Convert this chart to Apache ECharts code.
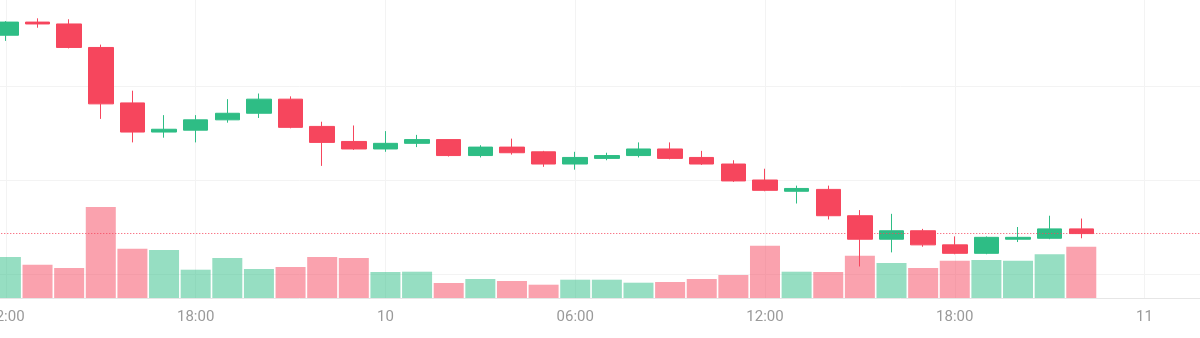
<!DOCTYPE html>
<html>
<head>
<meta charset="utf-8">
<script src="https://cdn.jsdelivr.net/npm/echarts@6/dist/echarts.min.js"></script>
<style>
  html, body { margin: 0; padding: 0; background: #ffffff; }
  #chart { width: 1200px; height: 338px; }
</style>
</head>
<body>
<div id="chart"></div>
<script>
// Hourly axis categories: 9th 11:00 ... 11th 02:00
const categories = [
  '11:00','12:00','13:00','14:00','15:00','16:00','17:00','18:00','19:00','20:00','21:00','22:00','23:00',
  '10','01:00','02:00','03:00','04:00','05:00','06:00','07:00','08:00','09:00','10:00','11:00','12:00',
  '13:00','14:00','15:00','16:00','17:00','18:00','19:00','20:00','21:00','22:00','23:00',
  '11','01:00','02:00'
];
// first candle sits on category index 1 (12:00 on the 9th)
const firstCandleIndex = 1;

const opens  = [62.54,62.68,62.66,62.41,61.82,61.51,61.53,61.64,61.71,61.86,61.57,61.41,61.33,61.39,61.43,61.26,61.35,61.30,61.17,61.23,61.26,61.33,61.24,61.17,61.00,60.88,60.90,60.62,60.37,60.46,60.31,60.22,60.37,60.38,60.48];
const closes = [62.68,62.66,62.41,61.81,61.51,61.54,61.64,61.71,61.86,61.56,61.40,61.33,61.39,61.43,61.26,61.35,61.29,61.17,61.24,61.26,61.33,61.23,61.17,60.99,60.89,60.91,60.62,60.37,60.46,60.31,60.22,60.39,60.39,60.48,60.43];
const lows   = [62.48,62.62,62.40,61.65,61.40,61.45,61.40,61.61,61.66,61.55,61.15,61.32,61.30,61.35,61.25,61.24,61.27,61.14,61.11,61.21,61.24,61.22,61.16,60.98,60.88,60.75,60.58,60.08,60.23,60.29,60.21,60.21,60.34,60.37,60.38];
const highs  = [62.69,62.72,62.71,62.44,61.95,61.69,61.69,61.86,61.92,61.89,61.62,61.58,61.52,61.48,61.43,61.37,61.44,61.31,61.30,61.29,61.40,61.40,61.31,61.21,61.12,60.94,60.94,60.68,60.64,60.48,60.40,60.40,60.50,60.62,60.59];
const volumes = [410,333,300,910,493,480,283,400,290,310,410,400,260,263,150,190,170,133,183,183,153,160,190,230,523,263,260,423,350,300,373,380,373,437,513];

const UP = '#2ebd85', DOWN = '#f6465d';
const UP_VOL = 'rgba(46,189,133,0.5)', DOWN_VOL = 'rgba(246,70,93,0.5)';

const candleData = opens.map((o, i) => [i + firstCandleIndex, o, closes[i], lows[i], highs[i]]);
const volumeData = volumes.map((v, i) => ({
  value: [i + firstCandleIndex, v],
  itemStyle: { color: closes[i] >= opens[i] ? UP_VOL : DOWN_VOL }
}));
const lastClose = closes[closes.length - 1];

const showEvery6 = (idx) => idx % 6 === 1;

const chart = echarts.init(document.getElementById('chart'), null, { renderer: 'canvas' });
chart.setOption({
  animation: false,
  backgroundColor: '#ffffff',
  grid: [
    { left: -25.73, right: -7.8, top: -8, height: 282, outerBoundsMode: 'none', containLabel: false },
    { left: -25.73, right: -7.8, top: 0, height: 298, outerBoundsMode: 'none', containLabel: false }
  ],
  xAxis: [
    {
      type: 'category', gridIndex: 0, data: categories, boundaryGap: false, show: false
    },
    {
      type: 'category', gridIndex: 1, data: categories, boundaryGap: false,
      axisLine: { show: true, lineStyle: { color: '#e6e6e6', width: 1 } },
      axisTick: { show: false },
      axisLabel: {
        interval: showEvery6,
        color: '#9a9a9a', fontSize: 15, fontFamily: 'Roboto', margin: 12
      },
      splitLine: { show: true, interval: showEvery6, lineStyle: { color: '#f3f3f3', width: 1 } }
    }
  ],
  yAxis: [
    {
      type: 'value', gridIndex: 0, min: 60, max: 63, interval: 1, scale: true,
      axisLine: { show: false }, axisTick: { show: false }, axisLabel: { show: false },
      splitLine: { show: true, lineStyle: { color: '#f3f3f3', width: 1 } }
    },
    {
      type: 'value', gridIndex: 1, min: 0, max: 2980, show: false,
      splitLine: { show: false }
    }
  ],
  series: [
    {
      type: 'bar', xAxisIndex: 1, yAxisIndex: 1,
      data: volumeData, barWidth: 30, clip: false,
      encode: { x: 0, y: 1 }
    },
    {
      type: 'candlestick', xAxisIndex: 0, yAxisIndex: 0,
      data: candleData, barWidth: 25, clip: false,
      encode: { x: 0, y: [1, 2, 3, 4] },
      itemStyle: { color: UP, color0: DOWN, borderColor: UP, borderColor0: DOWN, borderWidth: 1 },
      z: 3,
      markLine: {
        silent: true, symbol: ['none', 'none'],
        label: { show: false },
        lineStyle: { type: [1, 2], color: '#f6465d', width: 1, opacity: 1 },
        data: [{ yAxis: lastClose }]
      }
    }
  ]
});
</script>
</body>
</html>
